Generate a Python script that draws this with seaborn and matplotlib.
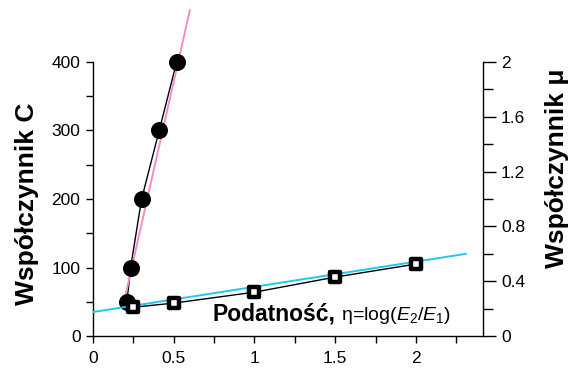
import matplotlib
matplotlib.use("Agg")
import matplotlib.pyplot as plt
import seaborn as sns
import pandas as pd

# Data
c_eta = [0.21, 0.233, 0.301, 0.41, 0.518]
c_val = [50, 100, 200, 300, 400]
mu_eta = [0.25, 0.5, 1.0, 1.5, 2.0]
mu_val = [0.21, 0.24, 0.32, 0.43, 0.525]
# fitted trend lines (endpoints)
fitC_eta = [0.194, 0.60]
fitC_val = [52, 476]
fitMu_eta = [0.0, 2.31]
fitMu_val = [0.175, 0.60]

xticks = [0, 0.5, 1, 1.5, 2]
xtick_labels = ["0", "0.5", "1", "1.5", "2"]
yticks_c = [0, 100, 200, 300, 400]
yticks_mu = [0, 0.4, 0.8, 1.2, 1.6, 2]
ytick_mu_labels = ["0", "0.4", "0.8", "1.2", "1.6", "2"]

sns.set_style("ticks")
plt.rcParams["font.family"] = ["Liberation Sans", "DejaVu Sans"]
plt.rcParams["mathtext.fontset"] = "custom"
plt.rcParams["mathtext.rm"] = "Liberation Sans"
plt.rcParams["mathtext.it"] = "Liberation Sans:italic"
plt.rcParams["mathtext.bf"] = "Liberation Sans:bold"
plt.rcParams["text.color"] = "black"
plt.rcParams["xtick.labelcolor"] = "black"
plt.rcParams["ytick.labelcolor"] = "black"
plt.rcParams["axes.labelcolor"] = "black"

W, H = 571, 376
fig = plt.figure(figsize=(W / 100, H / 100), dpi=100)
ax = fig.add_axes([93 / W, 1 - 336 / H, (483 - 93) / W, (336 - 62) / H])
ax2 = ax.twinx()

dfC = pd.DataFrame({"eta": c_eta, "C": c_val})
dfM = pd.DataFrame({"eta": mu_eta, "mu": mu_val})

# C series (left axis)
sns.lineplot(x=fitC_eta, y=fitC_val, ax=ax, color="#f58cc8", lw=1.4, clip_on=False, zorder=3)
sns.lineplot(data=dfC, x="eta", y="C", ax=ax, color="black", lw=1.0, zorder=2)
sns.scatterplot(data=dfC, x="eta", y="C", ax=ax, color="black", s=150, edgecolor="black",
                linewidth=0, zorder=4, clip_on=False)

# mu series (right axis)
sns.lineplot(data=dfM, x="eta", y="mu", ax=ax2, color="black", lw=1.0, zorder=2)
sns.scatterplot(data=dfM, x="eta", y="mu", ax=ax2, marker="s", s=55, facecolor="white",
                edgecolor="black", linewidth=3.2, zorder=4)
sns.lineplot(x=fitMu_eta, y=fitMu_val, ax=ax2, color="#1ec8f0", lw=1.4, zorder=3)

ax.set_xlim(0, 2.415)
ax.set_ylim(0, 400)
ax2.set_ylim(0, 2)

ax.set_xticks(xticks)
ax.set_xticklabels(xtick_labels)
ax.set_xticks([0.25, 0.75, 1.25, 1.75, 2.25], minor=True)
ax.set_yticks(yticks_c)
ax.set_yticks([50, 150, 250, 350], minor=True)
ax2.set_yticks(yticks_mu)
ax2.set_yticklabels(ytick_mu_labels)
ax2.set_yticks([0.2, 0.6, 1.0, 1.4, 1.8], minor=True)

for a in (ax, ax2):
    a.spines["top"].set_visible(False)
    a.set_xlabel("")
    a.set_ylabel("")
    for s in a.spines.values():
        s.set_linewidth(1.0)
        s.set_color("black")
ax.spines["right"].set_visible(False)
ax2.spines["left"].set_visible(False)
ax2.spines["bottom"].set_visible(False)

ax.tick_params(axis="both", which="major", labelsize=12.5, length=5, width=1, color="black", pad=4,
               labelcolor="black")
ax.tick_params(axis="both", which="minor", length=5, width=1, color="black")
ax.tick_params(axis="x", pad=6)
ax2.tick_params(axis="y", which="major", labelsize=12.5, length=9, width=1, color="black", pad=4,
                labelcolor="black")
ax2.tick_params(axis="y", which="minor", length=7, width=1, color="black")

fig.text(27 / W, 1 - 204 / H, "Współczynnik C", fontsize=19, fontweight="bold",
         rotation=90, ha="center", va="center", color="black")
fig.text(557 / W, 1 - 168 / H, "Współczynnik μ", fontsize=19, fontweight="bold",
         rotation=90, ha="center", va="center", color="black")

t1 = ax.text(0.74, 22, "Podatność,", fontsize=16.5, fontweight="bold",
             va="baseline", ha="left", color="black")
ax.annotate(r" η=log($E_2$/$E_1$)", xy=(1, 0), xycoords=t1, fontsize=14,
            va="bottom", ha="left", color="black")

fig.savefig("out.png", dpi=100)
